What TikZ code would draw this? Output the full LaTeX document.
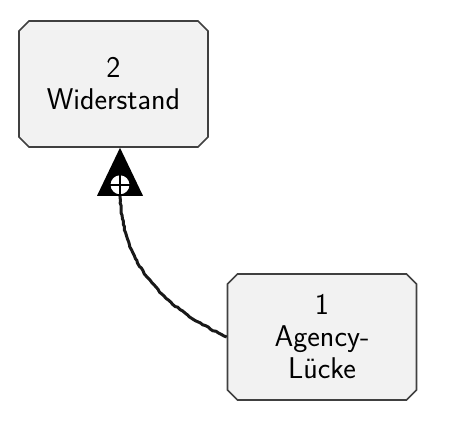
\documentclass[tikz,border=0pt]{standalone}
\usetikzlibrary{positioning, shapes.misc, decorations.pathmorphing}

\begin{document}
\begin{tikzpicture}[x=1pt, y=1pt,
        box/.style={chamfered rectangle, chamfered rectangle xsep=5pt, chamfered rectangle ysep=5pt,
            draw=black!75, line width=1.6pt, fill=black!5, minimum width=189pt, minimum height=126pt,
            inner sep=0pt, align=center, font=\sffamily\fontsize{30pt}{32pt}\selectfont},
        link/.style={line width=3pt, black!90, decorate, decoration={random steps, segment length=3pt, amplitude=0.6pt}},
        pro/.style={circle, draw, fill=white, line width=1.8pt, minimum size=21pt, inner sep=0pt}
    ]
        \useasboundingbox (0,0) rectangle (449,422);

        % Kaesten
        \node [box] (wid) at (113.5,338) {2\\Widerstand};
        \node [box] (ag) at (322,85) {1\\Agency-\\L\"ucke};

        % Pfeilspitze
        \coordinate (tip) at ([xshift=6.5pt]wid.south);
        \fill (tip) -- ++(-23,-48) -- ++(46,0) -- cycle;
        \node [pro] (plus) at ([yshift=-37pt]tip) {};
        \draw [line width=1.8pt] (plus.north) -- (plus.south) (plus.west) -- (plus.east);

        % Verbindung
        \draw [link] (ag.west) to[out=155, in=-88] (plus.south);
    \end{tikzpicture}
\end{document}
